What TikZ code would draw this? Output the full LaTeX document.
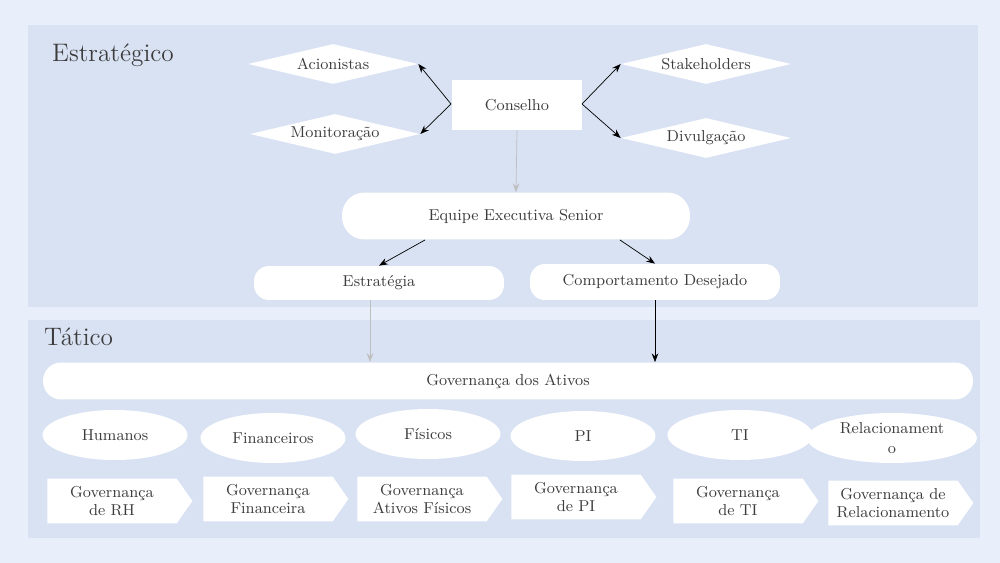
\documentclass[tikz,border=0pt]{standalone}
\usetikzlibrary{shapes.geometric,shapes.symbols,arrows.meta,positioning}
\definecolor{pagebg}{RGB}{232,239,250}
\definecolor{panelbg}{RGB}{217,226,243}
\definecolor{inkgray}{RGB}{60,60,60}
\tikzset{diam/.style={diamond,fill=white,aspect=4.3,minimum width=3.4cm,minimum height=0.8cm,inner sep=0pt,text=inkgray,font=\small}}
\tikzset{rbox/.style={rectangle,rounded corners=0.36cm,fill=white,text=inkgray,font=\small}}
\tikzset{oval/.style={ellipse,fill=white,minimum width=2.9cm,minimum height=1cm,inner sep=0pt,text=inkgray,font=\small}}
\tikzset{tag/.style={signal,signal to=east,signal pointer angle=110,fill=white,minimum width=2.9cm,minimum height=0.9cm,inner sep=1pt,text width=2.4cm,align=center,text=inkgray,font=\small,execute at begin node=\setlength{\baselineskip}{10pt}}}
\tikzset{link/.style={-{Stealth[length=5pt]},black,thin}}
\tikzset{faint/.style={-{Stealth[length=5pt]},black!25,thin}}
\begin{document}
\begin{tikzpicture}[x=0.02cm,y=-0.02cm]
  \fill[pagebg] (0,0) rectangle (1000,563);
  \useasboundingbox (0,0) rectangle (1000,563);
  % panels
  \fill[panelbg] (28,25) rectangle (978,307);
  \fill[panelbg] (28,320) rectangle (980,538);
  \node[anchor=west,text=inkgray,font=\Large] (estr) at (46,55) {Estratégico};
  \node[anchor=west,text=inkgray,font=\Large] (tat) at (38,337) {Tático};

  % strategic level
  \node[rectangle,fill=white,minimum width=2.6cm,minimum height=1cm,text=inkgray,font=\small] (cons) at (517,105) {Conselho};
  \node[diam] (acio) at (333,64) {Acionistas};
  \node[diam] (moni) at (335,134) {Monitoração};
  \node[diam] (stak) at (706,64) {Stakeholders};
  \node[diam] (divu) at (706,138) {Divulgação};
  \node[rbox,rounded corners=0.45cm,minimum width=6.96cm,minimum height=0.94cm] (equi) at (516,216) {Equipe Executiva Senior};
  \node[rbox,rounded corners=0.3cm,minimum width=5cm,minimum height=0.68cm] (estg) at (379,283) {Estratégia};
  \node[rbox,rounded corners=0.3cm,minimum width=5cm,minimum height=0.72cm] (comp) at (655,282) {Comportamento Desejado};

  \coordinate (cl) at (451,104);
  \coordinate (cr) at (582,104);
  \draw[link] (cl) -- (acio.east);
  \draw[link] (cl) -- (moni.east);
  \draw[link] (cr) -- (stak.west);
  \draw[link] (cr) -- (divu.west);
  \draw[faint] (cons.south) -- (equi.north);
  \draw[link] (425,240) -- (estg.north);
  \draw[link] (620,240) -- (comp.north);

  % tactical level
  \node[rbox,minimum width=18.6cm,minimum height=0.74cm] (gov) at (508,381) {Governança dos Ativos};
  \draw[faint] (370,300) -- (370,362);
  \draw[link] (comp.south) -- (comp.south |- gov.north);

  \node[oval] (hum) at (115,435) {Humanos};
  \node[oval] (fin) at (273,438) {Financeiros};
  \node[oval] (fis) at (428,434) {Físicos};
  \node[oval] (pi) at (583,436) {PI};
  \node[oval] (ti) at (740,435) {TI};
  \node[oval,text width=2.4cm,align=center] (rel) at (892,438) {Relacionament\\o};

  \node[tag] (grh) at (112,501) {Governança de RH};
  \node[tag] (gfin) at (268,499) {Governança Financeira};
  \node[tag] (gfis) at (422,499) {Governança Ativos Físicos};
  \node[tag] (gpi) at (576,497) {Governança de PI};
  \node[tag] (gti) at (738,501) {Governança de TI};
  \node[tag] (grel) at (893,503) {Governança de Relacionamento};
\end{tikzpicture}
\end{document}
